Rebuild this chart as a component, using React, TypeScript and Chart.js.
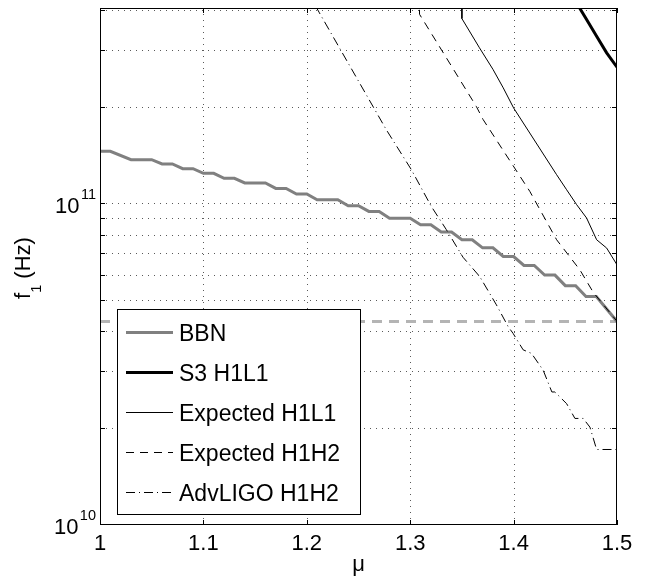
import React, { useEffect, useRef } from 'react';
import { Chart, registerables } from 'chart.js';

Chart.register(...registerables);

// ---------- data ----------
const xMin = 1;
const xMax = 1.5;
const yMin = 1e10;
const yMax = 4.1e11;

const xTickValues = [1, 1.1, 1.2, 1.3, 1.4, 1.5];
const xTickLabels = ['1', '1.1', '1.2', '1.3', '1.4', '1.5'];
const yMajorValues = [1e10, 1e11];
const yMajorExponents = ['10', '11'];
const yMinorValues = [2e10, 3e10, 4e10, 5e10, 6e10, 7e10, 8e10, 9e10, 2e11, 3e11, 4e11];

const seriesLabels = ['BBN', 'S3 H1L1', 'Expected H1L1', 'Expected H1H2', 'AdvLIGO H1H2'];

const bbnMu = [1.00, 1.01, 1.03, 1.05, 1.06, 1.07, 1.08, 1.09, 1.10, 1.11, 1.12, 1.13, 1.14, 1.16, 1.17, 1.18, 1.19, 1.20, 1.21, 1.23, 1.24, 1.25, 1.26, 1.27, 1.28, 1.30, 1.31, 1.32, 1.33, 1.34, 1.35, 1.36, 1.37, 1.38, 1.39, 1.40, 1.41, 1.42, 1.43, 1.44, 1.45, 1.46, 1.47, 1.48, 1.50];
const bbnF = [1.464e11, 1.464e11, 1.379e11, 1.379e11, 1.338e11, 1.338e11, 1.293e11, 1.293e11, 1.250e11, 1.250e11, 1.206e11, 1.206e11, 1.167e11, 1.167e11, 1.122e11, 1.122e11, 1.078e11, 1.078e11, 1.034e11, 1.034e11, 9.91e10, 9.91e10, 9.51e10, 9.51e10, 9.05e10, 9.05e10, 8.64e10, 8.64e10, 8.20e10, 8.20e10, 7.76e10, 7.76e10, 7.32e10, 7.32e10, 6.88e10, 6.88e10, 6.45e10, 6.45e10, 6.02e10, 6.02e10, 5.58e10, 5.58e10, 5.16e10, 5.16e10, 4.315e10];

const bbnLimitMu = [1.0, 1.5];
const bbnLimitF = [4.315e10, 4.315e10];

const s3Mu = [1.45, 1.46, 1.47, 1.48, 1.49, 1.50];
const s3F = [4.85e11, 4.30e11, 3.80e11, 3.36e11, 2.97e11, 2.68e11];

const h1l1Mu = [1.35, 1.35, 1.367, 1.38, 1.39, 1.40, 1.4416, 1.4513, 1.461, 1.4706, 1.4803, 1.49, 1.50];
const h1l1F = [1e12, 3.80e11, 3.08e11, 2.64e11, 2.31e11, 2.00e11, 1.238e11, 1.111e11, 9.98e10, 9.07e10, 7.76e10, 7.31e10, 6.48e10];

const h1h2Mu = [1.309, 1.309, 1.364, 1.3705, 1.4157, 1.4416, 1.4641, 1.477, 1.50];
const h1h2F = [1e12, 3.92e11, 2.02e11, 1.84e11, 1.098e11, 7.76e10, 6.25e10, 5.32e10, 4.32e10];

const advMu = [1.20, 1.2122, 1.2768, 1.3011, 1.3204, 1.335, 1.3511, 1.3672, 1.3834, 1.3947, 1.3995, 1.4092, 1.4173, 1.4286, 1.437, 1.4399, 1.4513, 1.4593, 1.4673, 1.4738, 1.4803, 1.50];
const advF = [4.65e11, 3.96e11, 1.712e11, 1.284e11, 9.86e10, 8.34e10, 6.84e10, 5.96e10, 4.86e10, 4.16e10, 3.96e10, 3.52e10, 3.43e10, 3.04e10, 2.60e10, 2.60e10, 2.39e10, 2.15e10, 2.15e10, 2.02e10, 1.72e10, 1.72e10];

// ---------- styling ----------
const FONT = '"Liberation Sans", Arial, Helvetica, sans-serif';
const LABEL_SIZE = 22;
const LEGEND_SIZE = 23;
const SUP_SIZE = 14.5;

const pts = (mu: number[], f: number[]) => mu.map((m, i) => ({ x: m, y: f[i] }));

const matlabPlugin = {
  id: 'matlabAxes',
  beforeDatasetsDraw(chart: any) {
    const { ctx, chartArea: a, scales } = chart;
    const x = scales.x;
    const y = scales.y;
    ctx.save();
    ctx.strokeStyle = 'rgba(0,0,0,0.65)';
    ctx.lineWidth = 1;
    ctx.setLineDash([1, 5]);
    xTickValues.forEach((v) => {
      const px = Math.round(x.getPixelForValue(v)) + 0.5;
      if (px <= a.left + 1 || px >= a.right - 1) return;
      ctx.beginPath();
      ctx.moveTo(px, a.top);
      ctx.lineTo(px, a.bottom);
      ctx.stroke();
    });
    yMajorValues.concat(yMinorValues).forEach((v) => {
      const py = Math.round(y.getPixelForValue(v)) - 0.5;
      if (py <= a.top + 1 || py >= a.bottom - 1) return;
      ctx.beginPath();
      ctx.moveTo(a.left, py);
      ctx.lineTo(a.right, py);
      ctx.stroke();
    });
    ctx.restore();
  },
  afterDatasetsDraw(chart: any) {
    const { ctx, chartArea: a, scales } = chart;
    const x = scales.x;
    const y = scales.y;
    ctx.save();
    ctx.setLineDash([]);
    ctx.strokeStyle = '#000';
    ctx.fillStyle = '#000';
    ctx.lineWidth = 1;

    // tick marks (inside, all four sides)
    const L = 5;
    ctx.beginPath();
    xTickValues.forEach((v) => {
      const px = Math.round(x.getPixelForValue(v)) + 0.5;
      ctx.moveTo(px, a.bottom);
      ctx.lineTo(px, a.bottom - L);
      ctx.moveTo(px, a.top);
      ctx.lineTo(px, a.top + L);
    });
    yMajorValues.concat(yMinorValues).forEach((v) => {
      const py = Math.round(y.getPixelForValue(v)) - 0.5;
      ctx.moveTo(a.left, py);
      ctx.lineTo(a.left + L, py);
      ctx.moveTo(a.right, py);
      ctx.lineTo(a.right - L, py);
    });
    ctx.stroke();

    // axes box
    ctx.strokeRect(a.left + 0.5, a.top + 0.5, a.right - a.left - 1, a.bottom - a.top - 1);

    // x tick labels
    ctx.font = `${LABEL_SIZE}px ${FONT}`;
    ctx.textAlign = 'center';
    ctx.textBaseline = 'alphabetic';
    xTickValues.forEach((v, i) => {
      ctx.fillText(xTickLabels[i], x.getPixelForValue(v), a.bottom + 25);
    });

    // y tick labels 10^n
    ctx.textAlign = 'left';
    yMajorValues.forEach((v, i) => {
      const py = y.getPixelForValue(v);
      const right = a.left - 4;
      ctx.font = `${SUP_SIZE}px ${FONT}`;
      const supW = ctx.measureText(yMajorExponents[i]).width;
      ctx.fillText(yMajorExponents[i], right - supW, py - 5.5);
      ctx.font = `${LABEL_SIZE}px ${FONT}`;
      const mainW = ctx.measureText('10').width;
      ctx.fillText('10', right - supW - 1.5 - mainW, py + 9);
    });

    // x axis title
    ctx.font = `${LABEL_SIZE}px ${FONT}`;
    ctx.textAlign = 'center';
    ctx.fillText('\u03bc', (a.left + a.right) / 2, 571);

    // y axis title: f_1 (Hz), rotated
    ctx.save();
    ctx.translate(29.5, 268);
    ctx.rotate(-Math.PI / 2);
    ctx.textAlign = 'left';
    ctx.font = `${LABEL_SIZE}px ${FONT}`;
    const wf = ctx.measureText('f').width;
    const wRest = ctx.measureText(' (Hz)').width;
    ctx.font = `${SUP_SIZE}px ${FONT}`;
    const wSub = ctx.measureText('1').width;
    const total = wf + wSub + wRest;
    let cx = -total / 2;
    ctx.font = `${LABEL_SIZE}px ${FONT}`;
    ctx.fillText('f', cx, 0);
    cx += wf;
    ctx.font = `${SUP_SIZE}px ${FONT}`;
    ctx.fillText('1', cx, 11);
    cx += wSub;
    ctx.font = `${LABEL_SIZE}px ${FONT}`;
    ctx.fillText(' (Hz)', cx, 0);
    ctx.restore();

    // legend
    const lx = a.left + 17;
    const ly = 309;
    const lw = 243;
    const lh = 205;
    ctx.fillStyle = '#fff';
    ctx.fillRect(lx, ly, lw, lh);
    ctx.strokeStyle = '#000';
    ctx.lineWidth = 1;
    ctx.strokeRect(lx + 0.5, ly + 0.5, lw, lh);
    const ds = chart.data.datasets;
    seriesLabels.forEach((lab, i) => {
      const d = ds[i];
      const cy = Math.round(ly + 23 + 40 * i) + 0.5;
      ctx.save();
      ctx.strokeStyle = d.borderColor;
      ctx.lineWidth = d.borderWidth;
      ctx.setLineDash(d.borderDash || []);
      ctx.beginPath();
      ctx.moveTo(lx + 9, cy);
      ctx.lineTo(lx + 56, cy);
      ctx.stroke();
      ctx.restore();
      ctx.fillStyle = '#000';
      ctx.font = `${LEGEND_SIZE}px ${FONT}`;
      ctx.textAlign = 'left';
      ctx.textBaseline = 'alphabetic';
      ctx.fillText(lab, lx + 62, cy + 8);
    });

    ctx.restore();
  },
};

export default function App() {
  const canvasRef = useRef<HTMLCanvasElement | null>(null);

  useEffect(() => {
    if (!canvasRef.current) return;
    const common = { pointRadius: 0, fill: false, tension: 0, clip: 0 };
    const chart = new Chart(canvasRef.current, {
      type: 'line',
      data: {
        datasets: [
          { ...common, label: seriesLabels[0], data: pts(bbnMu, bbnF), borderColor: '#808080', borderWidth: 3, order: 10 },
          { ...common, label: seriesLabels[1], data: pts(s3Mu, s3F), borderColor: '#000000', borderWidth: 3, order: 9 },
          { ...common, label: seriesLabels[2], data: pts(h1l1Mu, h1l1F), borderColor: '#000000', borderWidth: 1, order: 8 },
          { ...common, label: seriesLabels[3], data: pts(h1h2Mu, h1h2F), borderColor: '#000000', borderWidth: 1, borderDash: [8, 6], order: 7 },
          { ...common, label: seriesLabels[4], data: pts(advMu, advF), borderColor: '#000000', borderWidth: 1, borderDash: [9, 4, 1, 4], order: 6 },
          { ...common, label: 'BBN limit', data: pts(bbnLimitMu, bbnLimitF), borderColor: '#b4b4b4', borderWidth: 3, borderDash: [10, 7], order: 11 },
        ] as any,
      },
      options: {
        responsive: false,
        animation: false,
        devicePixelRatio: 1,
        events: [],
        layout: { padding: { left: 100, top: 8, right: 28, bottom: 51 } },
        plugins: { legend: { display: false }, tooltip: { enabled: false } },
        scales: {
          x: { type: 'linear', min: xMin, max: xMax, display: false },
          y: { type: 'logarithmic', min: yMin, max: yMax, display: false },
        },
      } as any,
      plugins: [matlabPlugin as any],
    });
    return () => chart.destroy();
  }, []);

  return (
    <div style={{ position: 'absolute', left: 0, top: 0, width: 645, height: 576, background: '#fff' }}>
      <canvas ref={canvasRef} width={645} height={576} style={{ width: 645, height: 576, display: 'block' }} />
    </div>
  );
}
